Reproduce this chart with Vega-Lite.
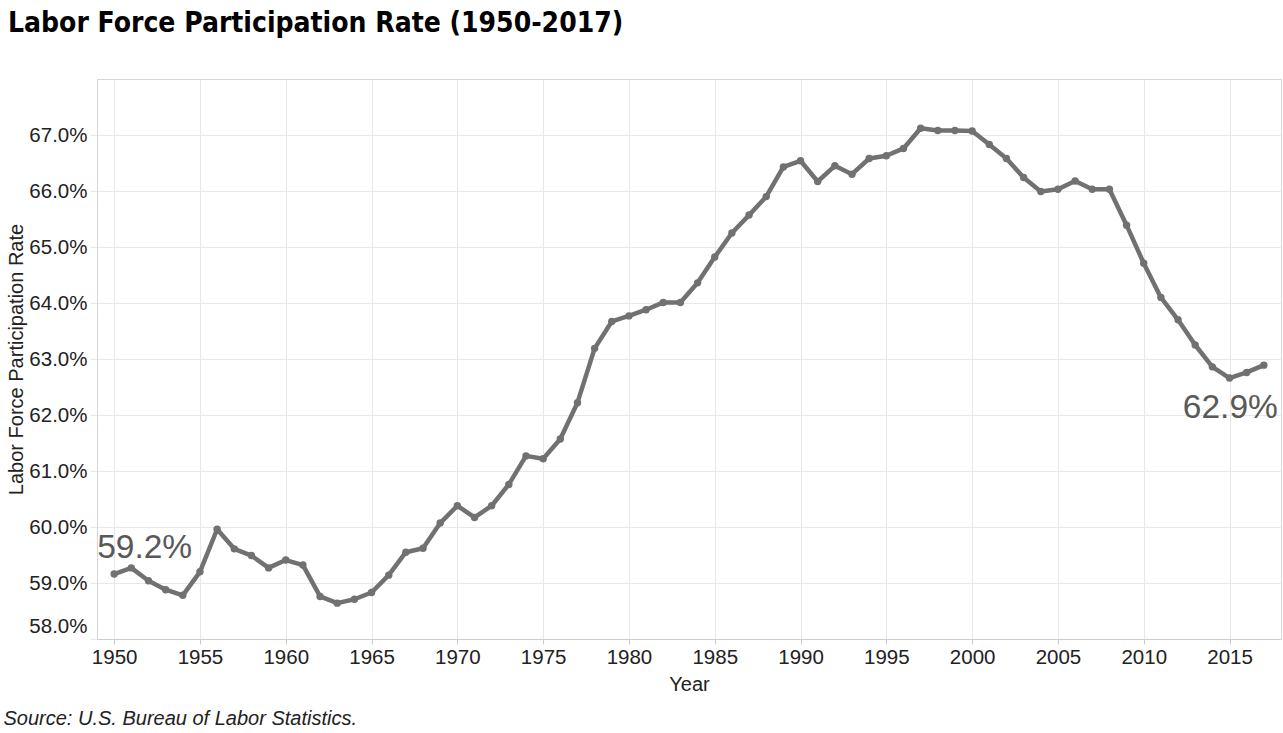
{
  "$schema": "https://vega.github.io/schema/vega-lite/v6.json",
  "width": 1184,
  "height": 560,
  "autosize": {"type": "none"},
  "padding": {"left": 97, "top": 79, "right": 2, "bottom": 94},
  "background": "white",
  "title": {
    "text": "Labor Force Participation Rate (1950-2017)",
    "anchor": "start",
    "frame": "group",
    "font": "DejaVu Sans Condensed, DejaVu Sans",
    "fontSize": 28,
    "fontWeight": "bold",
    "color": "#000000",
    "baseline": "alphabetic",
    "offset": 19,
    "dx": -89
  },
  "config": {
    "font": "Liberation Sans",
    "view": {"stroke": "#d6d6d6", "strokeWidth": 1}
  },
  "data": {
    "values": [
      {"year": 1950, "rate": 0.5916}, {"year": 1951, "rate": 0.5927}, {"year": 1952, "rate": 0.5904},
      {"year": 1953, "rate": 0.5888}, {"year": 1954, "rate": 0.5878}, {"year": 1955, "rate": 0.5920},
      {"year": 1956, "rate": 0.5996}, {"year": 1957, "rate": 0.5961}, {"year": 1958, "rate": 0.5949},
      {"year": 1959, "rate": 0.5927}, {"year": 1960, "rate": 0.5941}, {"year": 1961, "rate": 0.5932},
      {"year": 1962, "rate": 0.5876}, {"year": 1963, "rate": 0.5864}, {"year": 1964, "rate": 0.5871},
      {"year": 1965, "rate": 0.5883}, {"year": 1966, "rate": 0.5914}, {"year": 1967, "rate": 0.5955},
      {"year": 1968, "rate": 0.5962}, {"year": 1969, "rate": 0.6007}, {"year": 1970, "rate": 0.6038},
      {"year": 1971, "rate": 0.6017}, {"year": 1972, "rate": 0.6038}, {"year": 1973, "rate": 0.6076},
      {"year": 1974, "rate": 0.6127}, {"year": 1975, "rate": 0.6122}, {"year": 1976, "rate": 0.6157},
      {"year": 1977, "rate": 0.6222}, {"year": 1978, "rate": 0.6319}, {"year": 1979, "rate": 0.6367},
      {"year": 1980, "rate": 0.6377}, {"year": 1981, "rate": 0.6388}, {"year": 1982, "rate": 0.6401},
      {"year": 1983, "rate": 0.6401}, {"year": 1984, "rate": 0.6436}, {"year": 1985, "rate": 0.6482},
      {"year": 1986, "rate": 0.6525}, {"year": 1987, "rate": 0.6557}, {"year": 1988, "rate": 0.6590},
      {"year": 1989, "rate": 0.6643}, {"year": 1990, "rate": 0.6654}, {"year": 1991, "rate": 0.6617},
      {"year": 1992, "rate": 0.6645}, {"year": 1993, "rate": 0.6630}, {"year": 1994, "rate": 0.6658},
      {"year": 1995, "rate": 0.6663}, {"year": 1996, "rate": 0.6676}, {"year": 1997, "rate": 0.6712},
      {"year": 1998, "rate": 0.6708}, {"year": 1999, "rate": 0.6708}, {"year": 2000, "rate": 0.6707},
      {"year": 2001, "rate": 0.6683}, {"year": 2002, "rate": 0.6658}, {"year": 2003, "rate": 0.6624},
      {"year": 2004, "rate": 0.6599}, {"year": 2005, "rate": 0.6603}, {"year": 2006, "rate": 0.6618},
      {"year": 2007, "rate": 0.6603}, {"year": 2008, "rate": 0.6603}, {"year": 2009, "rate": 0.6539},
      {"year": 2010, "rate": 0.6471}, {"year": 2011, "rate": 0.6410}, {"year": 2012, "rate": 0.6370},
      {"year": 2013, "rate": 0.6325}, {"year": 2014, "rate": 0.6286}, {"year": 2015, "rate": 0.6266},
      {"year": 2016, "rate": 0.6276}, {"year": 2017, "rate": 0.6289}
    ]
  },
  "resolve": {"axis": {"x": "independent"}},
  "layer": [
    {
      "mark": {"type": "line", "color": "#717171", "strokeWidth": 4.5, "strokeJoin": "round", "strokeCap": "round"},
      "encoding": {
        "x": {
          "field": "year", "type": "quantitative",
          "scale": {"domain": [1949, 2018], "nice": false, "zero": false},
          "axis": {
            "title": "Year",
            "values": [1950, 1955, 1960, 1965, 1970, 1975, 1980, 1985, 1990, 1995, 2000, 2005, 2010, 2015],
            "format": "d",
            "labelFontSize": 20.5,
            "labelColor": "#222222",
            "labelPadding": 3,
            "tickSize": 5,
            "tickColor": "#cccccc",
            "domainColor": "#cccccc",
            "gridColor": "#e8e8e8",
            "titleFontSize": 20,
            "titleFontWeight": "normal",
            "titleColor": "#222222",
            "titlePadding": 7
          }
        },
        "y": {
          "field": "rate", "type": "quantitative",
          "scale": {"domain": [0.58, 0.68], "nice": false, "zero": false},
          "axis": {
            "title": "Labor Force Participation Rate",
            "values": [0.58, 0.59, 0.60, 0.61, 0.62, 0.63, 0.64, 0.65, 0.66, 0.67],
            "format": ".1%",
            "labelFontSize": 20.5,
            "labelColor": "#222222",
            "labelPadding": 3,
            "labelFlush": true,
            "labelFlushOffset": -3,
            "tickSize": 7,
            "tickColor": "#e6e6e6",
            "domainColor": "#d6d6d6",
            "gridColor": "#e8e8e8",
            "titleFontSize": 20,
            "titleFontWeight": "normal",
            "titleColor": "#222222",
            "titlePadding": 2
          }
        }
      }
    },
    {
      "mark": {"type": "point", "filled": true, "color": "#717171", "size": 55, "opacity": 1},
      "encoding": {
        "x": {"field": "year", "type": "quantitative", "axis": null},
        "y": {"field": "rate", "type": "quantitative"}
      }
    },
    {
      "transform": [{"filter": "datum.year === 1950"}],
      "mark": {"type": "text", "align": "left", "baseline": "middle", "dx": -17, "dy": -26, "fontSize": 33.5, "color": "#595959"},
      "encoding": {
        "x": {
          "field": "year", "type": "quantitative",
          "axis": {
            "orient": "bottom",
            "title": "Source: U.S. Bureau of Labor Statistics.",
            "labels": false, "ticks": false, "domain": false, "grid": false,
            "titleAlign": "left",
            "titleAnchor": "start",
            "titleBaseline": "middle",
            "titleX": -94,
            "titleY": 79,
            "titleFontSize": 20,
            "titleFontStyle": "italic",
            "titleFontWeight": "normal",
            "titleColor": "#222222"
          }
        },
        "y": {"field": "rate", "type": "quantitative"},
        "text": {"field": "rate", "type": "quantitative", "format": ".1%"}
      }
    },
    {
      "transform": [{"filter": "datum.year === 2017"}],
      "mark": {"type": "text", "align": "right", "baseline": "middle", "dx": 14, "dy": 43, "fontSize": 33.5, "color": "#595959"},
      "encoding": {
        "x": {"field": "year", "type": "quantitative", "axis": null},
        "y": {"field": "rate", "type": "quantitative"},
        "text": {"field": "rate", "type": "quantitative", "format": ".1%"}
      }
    }
  ]
}
